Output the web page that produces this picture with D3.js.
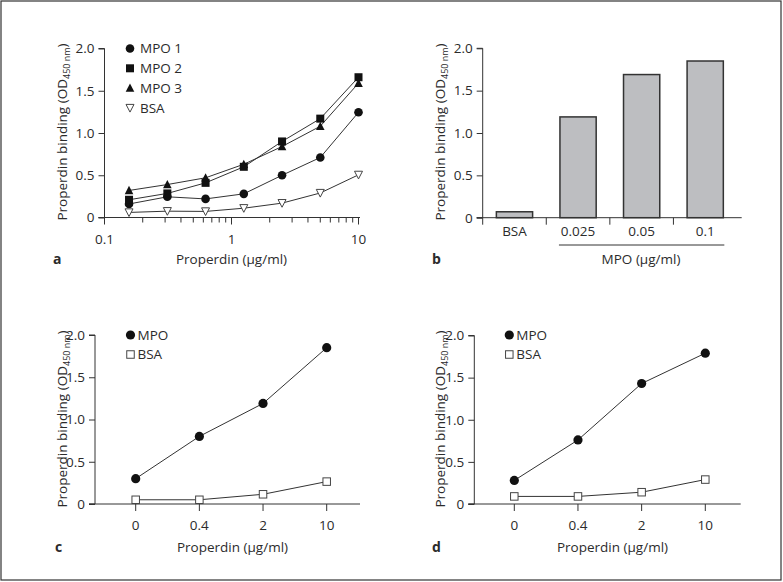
<!DOCTYPE html>
<html>
<head>
<meta charset="utf-8">
<script src="https://cdn.jsdelivr.net/npm/d3@7"></script>
<style>
  html, body { margin: 0; padding: 0; background: #fff; }
  svg text { font-family: "Open Sans", "Noto Sans", sans-serif; fill: #2b2b2b; }
</style>
</head>
<body>
<svg id="chart" width="783" height="582"></svg>
<script>
// ---------- DATA ----------
// Panel a: properdin concentration series (log x)
const aDoses = [0.156, 0.3125, 0.625, 1.25, 2.5, 5, 10];
const aMPO1 = [0.16, 0.245, 0.22, 0.28, 0.50, 0.71, 1.245];
const aMPO2 = [0.21, 0.285, 0.41, 0.60, 0.90, 1.17, 1.66];
const aMPO3 = [0.32, 0.39, 0.47, 0.63, 0.84, 1.08, 1.59];
const aBSA  = [0.06, 0.075, 0.072, 0.11, 0.17, 0.29, 0.505];
const aXTicks = [0.1, 1, 10];
const aSeriesNames = ["MPO 1", "MPO 2", "MPO 3", "BSA"];

// Panel b: bars
const bCategories = ["BSA", "0.025", "0.05", "0.1"];
const bValues = [0.07, 1.19, 1.69, 1.85];

// Panel c
const cdCategories = ["0", "0.4", "2", "10"];
const cMPO = [0.30, 0.80, 1.19, 1.85];
const cBSA = [0.05, 0.05, 0.115, 0.265];
// Panel d
const dMPO = [0.28, 0.76, 1.43, 1.79];
const dBSA = [0.09, 0.09, 0.14, 0.29];
const cdSeriesNames = ["MPO", "BSA"];

const yTicks = [0, 0.5, 1.0, 1.5, 2.0];
const yTickLabels = ["0", "0.5", "1.0", "1.5", "2.0"];

// ---------- DRAW ----------
const svg = d3.select("#chart");
const ink = "#333";
const FS = 13.5;

svg.append("rect").attr("x", 1).attr("y", 1).attr("width", 780).attr("height", 579)
  .attr("fill", "none").attr("stroke", "#333").attr("stroke-width", 1.2);

function yAxis(g, y, x0) {
  const ax = d3.axisLeft(y).tickValues(yTicks).tickFormat((d, i) => yTickLabels[i])
    .tickSize(6).tickPadding(4);
  const gg = g.append("g").attr("transform", `translate(${x0},0)`).call(ax);
  gg.select(".domain").attr("stroke", ink).attr("d", `M-6,${y(0)}H0V${y(2)}H-6`);
  gg.selectAll(".tick line").attr("stroke", ink);
  gg.selectAll(".tick text").attr("font-size", FS).attr("fill", "#2b2b2b")
    .style("font-family", '"Open Sans", sans-serif');
  return gg;
}

function yLabel(g, x, yc) {
  const t = g.append("text").attr("transform", `translate(${x},${yc}) rotate(-90)`)
    .attr("text-anchor", "middle").attr("font-size", FS);
  t.append("tspan").text("Properdin binding (OD");
  t.append("tspan").attr("font-size", 9).attr("dy", 3).text("450 nm");
  t.append("tspan").attr("dy", -3).text(")");
}

function panelLetter(g, letter, x, y) {
  g.append("text").attr("x", x).attr("y", y).attr("font-size", 14)
    .attr("font-weight", "bold").attr("fill", "#222").text(letter);
}

function marker(g, type, x, y, size) {
  const s = size || 8;
  if (type === "circle") {
    g.append("circle").attr("cx", x).attr("cy", y).attr("r", s / 2 + 0.3).attr("fill", "#111");
  } else if (type === "square") {
    g.append("rect").attr("x", x - s / 2).attr("y", y - s / 2).attr("width", s).attr("height", s).attr("fill", "#111");
  } else if (type === "opensquare") {
    g.append("rect").attr("x", x - s / 2).attr("y", y - s / 2).attr("width", s).attr("height", s)
      .attr("fill", "#fff").attr("stroke", "#444").attr("stroke-width", 1);
  } else if (type === "triangle") {
    const h = s * 0.95;
    g.append("path").attr("d", `M${x},${y - h / 2 - 0.8}L${x + s / 2 + 0.3},${y + h / 2}L${x - s / 2 - 0.3},${y + h / 2}Z`).attr("fill", "#111");
  } else if (type === "downtri") {
    const h = s * 0.9;
    g.append("path").attr("d", `M${x - s / 2},${y - h / 2}L${x + s / 2},${y - h / 2}L${x},${y + h / 2 + 0.5}Z`)
      .attr("fill", "#fff").attr("stroke", "#444").attr("stroke-width", 1);
  }
}

// ===== Panel a =====
{
  const g = svg.append("g");
  const x = d3.scaleLog().domain([0.1, 10]).range([104.5, 358.5]);
  const y = d3.scaleLinear().domain([0, 2]).range([217.5, 48.5]);
  yAxis(g, y, 104.5);
  g.append("line").attr("x1", 98.5).attr("x2", 360).attr("y1", y(0)).attr("y2", y(0)).attr("stroke", ink);
  const minor = [];
  [0.1, 1].forEach(dec => { for (let k = 2; k <= 9; k++) minor.push(dec * k); });
  g.selectAll(".minor").data(minor).join("line")
    .attr("x1", d => x(d)).attr("x2", d => x(d)).attr("y1", y(0)).attr("y2", y(0) + 5).attr("stroke", ink);
  g.selectAll(".major").data(aXTicks).join("line")
    .attr("x1", d => x(d)).attr("x2", d => x(d)).attr("y1", y(0)).attr("y2", y(0) + 7).attr("stroke", ink);
  g.selectAll(".xl").data(aXTicks).join("text")
    .attr("x", d => x(d)).attr("y", 244).attr("text-anchor", "middle").attr("font-size", FS).text(d => d);
  g.append("text").attr("x", 231.5).attr("y", 264).attr("text-anchor", "middle").attr("font-size", FS).text("Properdin (µg/ml)");
  yLabel(g, 67, 132);
  panelLetter(g, "a", 53, 264);

  const series = [
    { v: aMPO1, m: "circle" }, { v: aMPO2, m: "square" },
    { v: aMPO3, m: "triangle" }, { v: aBSA, m: "downtri" }
  ];
  const line = d3.line().x((d, i) => x(aDoses[i])).y(d => y(d));
  series.forEach(s => {
    g.append("path").attr("d", line(s.v)).attr("fill", "none").attr("stroke", "#333").attr("stroke-width", 1);
  });
  series.forEach(s => {
    s.v.forEach((v, i) => marker(g, s.m, x(aDoses[i]), y(v), 8));
  });
  const ly = [48.5, 68.3, 88, 108];
  series.forEach((s, i) => {
    marker(g, s.m, 130, ly[i], 8);
    g.append("text").attr("x", 140).attr("y", ly[i] + 4.8).attr("font-size", FS).text(aSeriesNames[i]);
  });
}

// ===== Panel b =====
{
  const g = svg.append("g");
  const y = d3.scaleLinear().domain([0, 2]).range([217.7, 48.3]);
  const x = d3.scaleBand().domain(bCategories).range([482.7, 737]).paddingInner(0.43).paddingOuter(0.215);
  yAxis(g, y, 482.7);
  g.append("line").attr("x1", 476.7).attr("x2", 741.7).attr("y1", y(0)).attr("y2", y(0)).attr("stroke", ink);
  const step = x.step();
  const bounds = bCategories.map((c, i) => x(c) - (step - x.bandwidth()) / 2);
  g.selectAll(".bt").data(bounds).join("line")
    .attr("x1", d => d).attr("x2", d => d).attr("y1", y(0)).attr("y2", y(0) + 7).attr("stroke", ink);
  g.selectAll(".bar").data(bValues).join("rect")
    .attr("x", (d, i) => x(bCategories[i])).attr("width", x.bandwidth())
    .attr("y", d => y(d)).attr("height", d => y(0) - y(d))
    .attr("fill", "#bdbec1").attr("stroke", "#333").attr("stroke-width", 1.5);
  g.selectAll(".bl").data(bCategories).join("text")
    .attr("x", d => x(d) + x.bandwidth() / 2).attr("y", 236).attr("text-anchor", "middle")
    .attr("font-size", FS).text(d => d);
  g.append("line").attr("x1", x("0.025") - 1).attr("x2", x("0.1") + x.bandwidth() + 1)
    .attr("y1", 245).attr("y2", 245).attr("stroke", ink);
  g.append("text").attr("x", 641).attr("y", 264).attr("text-anchor", "middle").attr("font-size", FS).text("MPO (µg/ml)");
  yLabel(g, 445, 132);
  panelLetter(g, "b", 432, 264);
}

// ===== Panels c & d =====
function linePanel(cfg) {
  const g = svg.append("g");
  const y = d3.scaleLinear().domain([0, 2]).range([504, cfg.yTop]);
  const x = d3.scalePoint().domain(cdCategories).range(cfg.xr);
  yAxis(g, y, cfg.ax);
  g.append("line").attr("x1", cfg.ax - 6).attr("x2", cfg.axEnd).attr("y1", y(0)).attr("y2", y(0)).attr("stroke", ink);
  g.selectAll(".xt").data(cdCategories).join("line")
    .attr("x1", d => x(d)).attr("x2", d => x(d)).attr("y1", y(0)).attr("y2", y(0) + 7).attr("stroke", ink);
  g.selectAll(".xl").data(cdCategories).join("text")
    .attr("x", d => x(d)).attr("y", 529.5).attr("text-anchor", "middle").attr("font-size", FS).text(d => d);
  g.append("text").attr("x", (cfg.ax + cfg.axEnd) / 2 + 5).attr("y", 552).attr("text-anchor", "middle")
    .attr("font-size", FS).text("Properdin (µg/ml)");
  yLabel(g, cfg.ylx, 419);
  panelLetter(g, cfg.letter, cfg.lx, 552);
  const line = d3.line().x((d, i) => x(cdCategories[i])).y(d => y(d));
  [cfg.mpo, cfg.bsa].forEach(v => {
    g.append("path").attr("d", line(v)).attr("fill", "none").attr("stroke", "#333").attr("stroke-width", 1);
  });
  cfg.bsa.forEach((v, i) => marker(g, "opensquare", x(cdCategories[i]), y(v), 7.5));
  cfg.mpo.forEach((v, i) => marker(g, "circle", x(cdCategories[i]), y(v), 8.6));
  const ms = ["circle", "opensquare"];
  const ly = [335, 354.5];
  cdSeriesNames.forEach((n, i) => {
    marker(g, ms[i], cfg.legX, ly[i], i === 0 ? 8.6 : 7.5);
    g.append("text").attr("x", cfg.legX + 7).attr("y", ly[i] + 4.8).attr("font-size", FS).text(n);
  });
}

linePanel({ letter: "c", ax: 95, axEnd: 360, xr: [135.7, 326.7], yTop: 335, ylx: 67, lx: 55,
  mpo: cMPO, bsa: cBSA, legX: 130.5 });
linePanel({ letter: "d", ax: 474.3, axEnd: 740.7, xr: [514.3, 705.3], yTop: 335.5, ylx: 445, lx: 432,
  mpo: dMPO, bsa: dBSA, legX: 509.3 });
</script>
</body>
</html>
